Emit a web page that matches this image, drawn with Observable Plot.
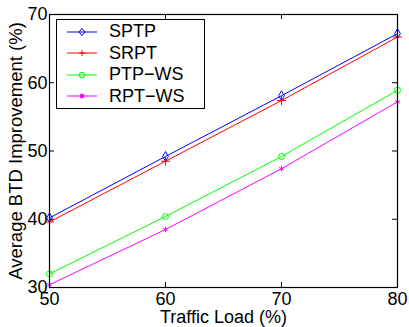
<!DOCTYPE html>
<html><head><meta charset="utf-8">
<script src="https://cdn.jsdelivr.net/npm/d3@7"></script>
<script src="https://cdn.jsdelivr.net/npm/@observablehq/plot@0.6"></script>
<style>
html,body{margin:0;padding:0;background:#fff;}
#wrap{position:relative;width:409px;height:327px;overflow:hidden;font-family:"Liberation Sans",Arial,sans-serif;}
#legend{position:absolute;left:56px;top:19px;width:149px;height:90px;border:1.2px solid #000;background:#fff;box-sizing:border-box;}
.row{position:absolute;left:0;height:20px;display:flex;align-items:center;white-space:nowrap;}
.row svg{margin-left:10px;}
.row span{margin-left:12px;font-size:18px;color:#000;}
</style></head>
<body><div id="wrap"><div id="chart"></div><div id="legend"></div></div>
<script>
const loads = [50, 60, 70, 80];
const seriesNames = ["SPTP", "SRPT", "PTP\u2212WS", "RPT\u2212WS"];
const sptp = [40.2, 49.2, 58.1, 67.2];
const srpt = [39.6, 48.5, 57.4, 66.7];
const ptpws = [32.0, 40.4, 49.2, 58.9];
const rptws = [30.4, 38.5, 47.4, 57.2];
const xTicks = [50, 60, 70, 80];
const yTicks = [30, 40, 50, 60, 70];
const colors = ["#0000ff", "#ff0000", "#00ff00", "#ff00ff"];
const symbols = ["diamond", "plus", "circle", "asterisk"];

const allValues = [sptp, srpt, ptpws, rptws];
const data = [];
allValues.forEach((vals, i) => vals.forEach((v, j) => data.push({series: seriesNames[i], x: loads[j], y: v})));

const marks = [];
seriesNames.forEach((name, i) => {
  const d = data.filter(r => r.series === name);
  marks.push(Plot.line(d, {x: "x", y: "y", stroke: colors[i], strokeWidth: 1}));
  marks.push(Plot.dot(d, {x: "x", y: "y", stroke: colors[i], symbol: () => symbols[i], r: i === 3 ? 2.5 : 3, strokeWidth: 1, fill: i === 3 ? colors[i] : "none"}));
});

const chart = Plot.plot({
  width: 409, height: 327,
  marginLeft: 49, marginRight: 12, marginTop: 14, marginBottom: 40,
  style: {fontFamily: "'Liberation Sans', Arial, sans-serif", fontSize: "18px", color: "#000", background: "#fff"},
  x: {domain: [50, 80], ticks: xTicks, tickSize: 0, tickPadding: 5, label: null},
  y: {domain: [30, 70], ticks: yTicks, tickSize: 0, tickPadding: 2, label: null},
  marks: [
    Plot.ruleX(xTicks, {x: d => d, y1: 30, y2: 30, insetTop: -5, stroke: "#000"}),
    Plot.ruleX(xTicks, {x: d => d, y1: 70, y2: 70, insetBottom: -5, stroke: "#000"}),
    Plot.ruleY(yTicks, {y: d => d, x1: 50, x2: 50, insetRight: -5, stroke: "#000"}),
    Plot.ruleY(yTicks, {y: d => d, x1: 80, x2: 80, insetLeft: -5, stroke: "#000"}),
    ...marks,
    Plot.frame({stroke: "#000", strokeWidth: 1.2}),
    Plot.text(["Traffic Load (%)"], {frameAnchor: "bottom", textAnchor: "middle", dy: 23, text: d => d, fontSize: 18, lineAnchor: "top"}),
    Plot.text(["Average BTD Improvement (%)"], {frameAnchor: "left", textAnchor: "middle", lineAnchor: "middle", dx: -33, rotate: -90, text: d => d, fontSize: 18.5})
  ]
});
document.getElementById("chart").appendChild(chart);

const legend = document.getElementById("legend");
const tops = [1.5, 23, 44.5, 66];
seriesNames.forEach((name, i) => {
  const row = document.createElement("div");
  row.className = "row";
  row.style.top = tops[i] + "px";
  let sym = "";
  const c = colors[i];
  if (i === 0) sym = `<polygon points="15,6.5 18,10 15,13.5 12,10" fill="none" stroke="${c}"/>`;
  if (i === 1) sym = `<path d="M12,10H18M15,7V13" stroke="${c}"/>`;
  if (i === 2) sym = `<circle cx="15" cy="10" r="2.8" fill="none" stroke="${c}"/>`;
  if (i === 3) sym = `<circle cx="15" cy="10" r="2" fill="${c}" stroke="${c}"/>`;
  row.innerHTML = `<svg width="30" height="20"><line x1="0" y1="10" x2="30" y2="10" stroke="${c}" stroke-width="1"/>${sym}</svg><span>${name}</span>`;
  legend.appendChild(row);
});
</script></body></html>
